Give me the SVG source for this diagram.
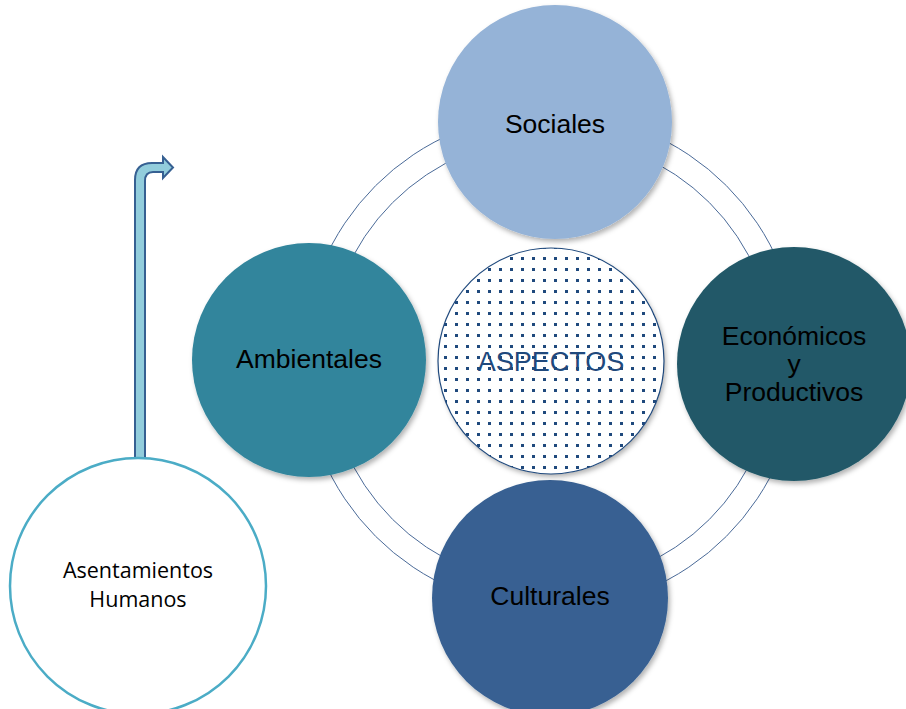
<svg xmlns="http://www.w3.org/2000/svg" width="906" height="709" viewBox="0 0 906 709">
<style>
.lbl{font-family:"Liberation Sans",Arial,sans-serif;font-size:26.5px;fill:#000;text-anchor:middle}
.ring{fill:none;stroke:#4a6a98;stroke-width:1}
.ah{font-family:"Open Sans","Noto Sans",sans-serif;font-size:21.5px;fill:#000;text-anchor:middle}
</style>
<defs>
<filter id="sh" x="-20%" y="-20%" width="140%" height="140%">
<feDropShadow dx="2" dy="3" stdDeviation="2.5" flood-color="#000" flood-opacity="0.3"/>
</filter>
<pattern id="dots" x="0" y="0" width="11" height="11" patternUnits="userSpaceOnUse">
<rect x="4" y="4" width="3" height="3" fill="#1f497d"/>
</pattern>
</defs>
<rect width="906" height="709" fill="#fff"/>
<g id="ring">
<circle class="ring" cx="551" cy="361" r="248"/>
<circle class="ring" cx="551" cy="361" r="224"/>
</g>
<g id="connectors">
<path d="M135,458 L135,180 Q135,163 152,163 L163,163 L163,157 L173,167.5 L163,178 L163,172 L153,172 Q145,172 145,181 L145,458 Z" fill="#92cddc" stroke="#366092" stroke-width="2" stroke-linejoin="miter"/>
</g>
<g id="sociales">
<circle cx="555" cy="122" r="117" fill="#95b3d7" filter="url(#sh)"/>
<text class="lbl" x="555" y="133">Sociales</text>
</g>
<g id="ambientales">
<circle cx="309" cy="360" r="117" fill="#31859c" filter="url(#sh)"/>
<text class="lbl" x="309" y="368">Ambientales</text>
</g>
<g id="economicos">
<circle cx="794" cy="364" r="117" fill="#215968" filter="url(#sh)"/>
<text class="lbl" x="794" y="345">Económicos</text>
<text class="lbl" x="794" y="373">y</text>
<text class="lbl" x="794" y="401">Productivos</text>
</g>
<g id="culturales">
<circle cx="550" cy="598" r="118" fill="#376092" filter="url(#sh)"/>
<text class="lbl" x="550" y="605">Culturales</text>
</g>
<g id="aspectos">
<circle cx="551" cy="361" r="113" fill="#fff" filter="url(#sh)"/>
<circle cx="551" cy="361" r="113" fill="url(#dots)" stroke="#1f497d" stroke-width="1.2"/>
<text x="551" y="371" font-family="Liberation Sans,Arial,sans-serif" font-size="27" fill="#1f497d" text-anchor="middle">ASPECTOS</text>
</g>
<g id="asentamientos">
<circle cx="138" cy="586" r="128" fill="#fff" stroke="#4bacc6" stroke-width="2.5"/>
<text class="ah" x="138" y="578">Asentamientos</text>
<text class="ah" x="138" y="607">Humanos</text>
</g>
</svg>
